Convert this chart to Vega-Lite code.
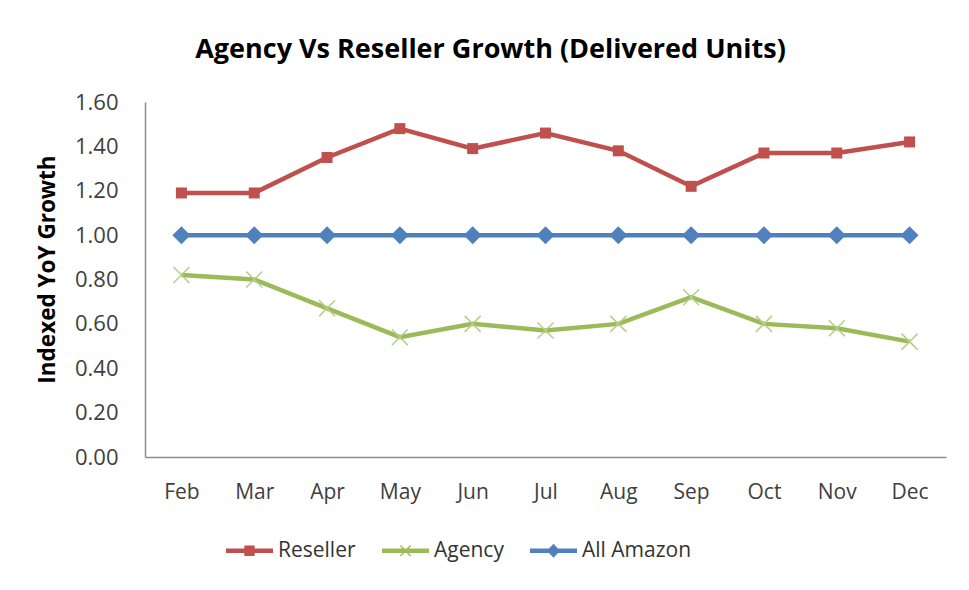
{
  "$schema": "https://vega.github.io/schema/vega-lite/v6.json",
  "autosize": {"type": "none"},
  "width": 801,
  "height": 355,
  "padding": {"left": 145, "top": 102, "right": 23, "bottom": 133},
  "background": "white",
  "title": {
    "text": "Agency Vs Reseller Growth (Delivered Units)",
    "anchor": "middle",
    "frame": "group",
    "dx": -55,
    "offset": 27,
    "font": "Open Sans",
    "fontSize": 27,
    "fontWeight": "bold",
    "color": "#000000"
  },
  "config": {
    "view": {"stroke": null},
    "font": "Open Sans"
  },
  "data": {
    "values": [
      {"month": "Feb", "series": "Reseller", "value": 1.19},
      {"month": "Mar", "series": "Reseller", "value": 1.19},
      {"month": "Apr", "series": "Reseller", "value": 1.35},
      {"month": "May", "series": "Reseller", "value": 1.48},
      {"month": "Jun", "series": "Reseller", "value": 1.39},
      {"month": "Jul", "series": "Reseller", "value": 1.46},
      {"month": "Aug", "series": "Reseller", "value": 1.38},
      {"month": "Sep", "series": "Reseller", "value": 1.22},
      {"month": "Oct", "series": "Reseller", "value": 1.37},
      {"month": "Nov", "series": "Reseller", "value": 1.37},
      {"month": "Dec", "series": "Reseller", "value": 1.42},
      {"month": "Feb", "series": "Agency", "value": 0.82},
      {"month": "Mar", "series": "Agency", "value": 0.80},
      {"month": "Apr", "series": "Agency", "value": 0.67},
      {"month": "May", "series": "Agency", "value": 0.54},
      {"month": "Jun", "series": "Agency", "value": 0.60},
      {"month": "Jul", "series": "Agency", "value": 0.57},
      {"month": "Aug", "series": "Agency", "value": 0.60},
      {"month": "Sep", "series": "Agency", "value": 0.72},
      {"month": "Oct", "series": "Agency", "value": 0.60},
      {"month": "Nov", "series": "Agency", "value": 0.58},
      {"month": "Dec", "series": "Agency", "value": 0.52},
      {"month": "Feb", "series": "All Amazon", "value": 1.0},
      {"month": "Mar", "series": "All Amazon", "value": 1.0},
      {"month": "Apr", "series": "All Amazon", "value": 1.0},
      {"month": "May", "series": "All Amazon", "value": 1.0},
      {"month": "Jun", "series": "All Amazon", "value": 1.0},
      {"month": "Jul", "series": "All Amazon", "value": 1.0},
      {"month": "Aug", "series": "All Amazon", "value": 1.0},
      {"month": "Sep", "series": "All Amazon", "value": 1.0},
      {"month": "Oct", "series": "All Amazon", "value": 1.0},
      {"month": "Nov", "series": "All Amazon", "value": 1.0},
      {"month": "Dec", "series": "All Amazon", "value": 1.0}
    ]
  },
  "encoding": {
    "x": {
      "field": "month",
      "type": "ordinal",
      "sort": ["Feb", "Mar", "Apr", "May", "Jun", "Jul", "Aug", "Sep", "Oct", "Nov", "Dec"],
      "scale": {"type": "point", "padding": 0.5},
      "axis": {
        "title": null,
        "labelAngle": 0,
        "labelFont": "Open Sans",
        "labelFontSize": 21,
        "labelColor": "#404040",
        "labelPadding": 24,
        "ticks": false,
        "domainColor": "#8c8c8c",
        "domainWidth": 1.5,
        "grid": false
      }
    },
    "y": {
      "field": "value",
      "type": "quantitative",
      "scale": {"domain": [0, 1.6], "nice": false},
      "axis": {
        "title": "Indexed YoY Growth",
        "titleFont": "Open Sans",
        "titleFontSize": 22.5,
        "titleFontWeight": "bold",
        "titleColor": "#000000",
        "titlePadding": 15,
        "titleY": 167,
        "values": [0, 0.2, 0.4, 0.6, 0.8, 1.0, 1.2, 1.4, 1.6],
        "format": ".2f",
        "labelFont": "Open Sans",
        "labelFontSize": 22,
        "labelColor": "#404040",
        "labelPadding": 27,
        "ticks": false,
        "domainColor": "#8c8c8c",
        "domainWidth": 1.5,
        "grid": false
      }
    }
  },
  "layer": [
    {
      "transform": [{"filter": "datum.series === 'Reseller'"}],
      "mark": {"type": "line", "strokeWidth": 4.5, "color": "#C0504D"},
      "encoding": {}
    },
    {
      "transform": [{"filter": "datum.series === 'Reseller'"}],
      "mark": {"type": "point", "shape": "square", "filled": true, "size": 121, "color": "#C0504D", "opacity": 1},
      "encoding": {}
    },
    {
      "transform": [{"filter": "datum.series === 'Agency'"}],
      "mark": {"type": "line", "strokeWidth": 4.5, "color": "#9BBB59"},
      "encoding": {}
    },
    {
      "transform": [{"filter": "datum.series === 'Agency'"}],
      "mark": {"type": "point", "shape": "M-1,-1L1,1M-1,1L1,-1", "filled": false, "size": 256, "stroke": "#B3CF88", "strokeWidth": 1.5, "opacity": 1},
      "encoding": {}
    },
    {
      "transform": [{"filter": "datum.series === 'All Amazon'"}],
      "mark": {"type": "line", "strokeWidth": 4.5, "color": "#4F81BD"},
      "encoding": {}
    },
    {
      "transform": [{"filter": "datum.series === 'All Amazon'"}],
      "mark": {"type": "point", "shape": "diamond", "filled": true, "size": 324, "color": "#4F81BD", "opacity": 1},
      "encoding": {}
    },
    {
      "mark": {"type": "point", "filled": true, "opacity": 0},
      "encoding": {
        "color": {
          "field": "series",
          "type": "nominal",
          "scale": {"domain": ["Reseller", "Agency", "All Amazon"], "range": ["#C0504D", "#9BBB59", "#4F81BD"]},
          "legend": {
            "title": null,
            "orient": "none",
            "direction": "horizontal",
            "legendX": 80,
            "legendY": 424,
            "symbolSize": 2209,
            "labelFont": "Open Sans",
            "labelFontSize": 21,
            "labelColor": "#333333",
            "labelOffset": 4,
            "columnPadding": 25,
            "symbolOpacity": 1,
            "encode": {"symbols": {"update": {"opacity": {"value": 1}}}}
          }
        },
        "shape": {
          "field": "series",
          "type": "nominal",
          "scale": {
            "domain": ["Reseller", "Agency", "All Amazon"],
            "range": [
              "M-1,-0.1H1V0.1H-1Z M-0.22,-0.22H0.22V0.22H-0.22Z",
              "M-1,-0.1H1V0.1H-1Z M-0.24,-0.2L-0.2,-0.24L0.24,0.2L0.2,0.24Z M-0.2,0.24L-0.24,0.2L0.2,-0.24L0.24,-0.2Z",
              "M-1,-0.1H1V0.1H-1Z M-0.28,0L0,-0.3L0.28,0L0,0.3Z"
            ]
          },
          "legend": {
            "title": null,
            "orient": "none",
            "direction": "horizontal",
            "legendX": 80,
            "legendY": 424,
            "symbolSize": 2209,
            "labelFont": "Open Sans",
            "labelFontSize": 21,
            "labelColor": "#333333",
            "labelOffset": 4,
            "columnPadding": 25,
            "symbolOpacity": 1,
            "encode": {"symbols": {"update": {"opacity": {"value": 1}}}}
          }
        }
      }
    }
  ]
}
